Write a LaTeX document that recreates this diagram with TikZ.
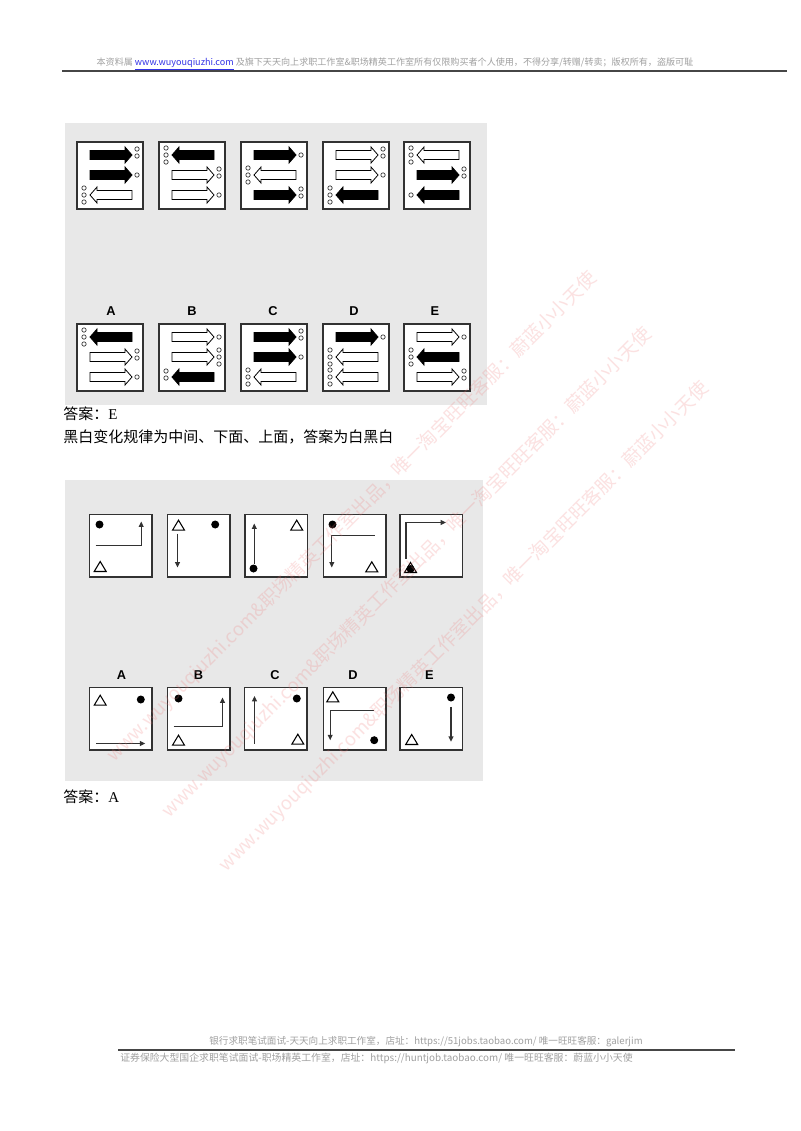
\documentclass[tikz,border=0pt]{standalone}
\usepackage{fontspec}
\setmainfont{Liberation Serif}
\newfontfamily\cjk{Noto Sans CJK SC}
\newfontfamily\lsans{Liberation Sans}
\usetikzlibrary{arrows.meta,calc}
\definecolor{panel}{RGB}{232,232,232}
\definecolor{edge}{RGB}{50,50,50}
\definecolor{hdr}{RGB}{160,160,160}
\definecolor{rulec}{RGB}{70,70,70}
\definecolor{link}{RGB}{50,50,230}
\definecolor{wm}{RGB}{240,120,120}
\newcommand\fpx[1]{\fontsize{#1}{#1}\selectfont}
\tikzset{
  panelbg/.style={fill=panel, draw=none},
  boxs/.style={draw=edge, line width=1.1pt, fill=white},
  blockarr/.style={draw=black, line width=0.6pt, line join=miter},
  ring/.style={draw=black!80, line width=0.5pt, fill=white},
  lab/.style={font=\lsans\bfseries\fpx{9.6}, inner sep=0pt},
  thin arrow/.style={draw=edge, line width=0.85pt, -{Triangle[length=4pt,width=3.6pt]}},
  tri/.style={draw=black, line width=0.8pt, fill=white, line join=miter},
  txt/.style={anchor=west, inner sep=0pt, font=\fpx{11.25}},
  wmtext/.style={text=wm, opacity=0.22, font=\cjk\fpx{14}, rotate=45, inner sep=0pt}
}
% right-pointing block arrow: fill, number of rings, row y
\newcommand\rarr[3]{%
  \draw[blockarr, fill=#1] (13,#3-4.5) -- (48,#3-4.5) -- (48,#3-8) -- (55,#3) -- (48,#3+8) -- (48,#3+4.5) -- (13,#3+4.5) -- cycle;
  \ifcase#2\or
    \draw[ring] (60,#3) circle (2.2);
  \or
    \draw[ring] (60,#3-6) circle (2.2); \draw[ring] (60,#3+1) circle (2.2);
  \or
    \draw[ring] (60,#3-7) circle (2.2); \draw[ring] (60,#3) circle (2.2); \draw[ring] (60,#3+7) circle (2.2);
  \fi}
% left-pointing block arrow
\newcommand\larr[3]{%
  \draw[blockarr, fill=#1] (55,#3-4.5) -- (20,#3-4.5) -- (20,#3-8) -- (13,#3) -- (20,#3+8) -- (20,#3+4.5) -- (55,#3+4.5) -- cycle;
  \ifcase#2\or
    \draw[ring] (7,#3) circle (2.2);
  \or
    \draw[ring] (7,#3-6) circle (2.2); \draw[ring] (7,#3+1) circle (2.2);
  \or
    \draw[ring] (7,#3-7) circle (2.2); \draw[ring] (7,#3) circle (2.2); \draw[ring] (7,#3+7) circle (2.2);
  \fi}
\newcommand\tria[2]{\draw[tri] (#1-6,#2+5) -- (#1+6,#2+5) -- (#1,#2-5) -- cycle;}
\newcommand\dota[2]{\fill[black] (#1,#2) circle (4);}
\begin{document}
\begin{tikzpicture}[x=0.75pt,y=-0.75pt]
\useasboundingbox[fill=white] (0,0) rectangle (800,1131);

% header
\node[inner sep=0pt, text=hdr, font=\cjk\fpx{6.8}] (hdr) at (395,64) {本资料属 \textcolor{link}{\underline{www.wuyouqiuzhi.com}} 及旗下天天向上求职工作室\&职场精英工作室所有仅限购买者个人使用，不得分享/转赠/转卖；版权所有，盗版可耻};
\draw[rulec, line width=1.4pt] (62,71) -- (787,71);

% ---------- puzzle 1 ----------
\fill[panelbg] (65,123) rectangle (487,405);
% top row
\begin{scope}[shift={(77,142)}]
  \draw[boxs] (0,0) rectangle (66,67);
  \rarr{black}{2}{13} \rarr{black}{1}{33} \larr{white}{3}{53}
\end{scope}
\begin{scope}[shift={(159,142)}]
  \draw[boxs] (0,0) rectangle (66,67);
  \larr{black}{3}{13} \rarr{white}{2}{33} \rarr{white}{1}{53}
\end{scope}
\begin{scope}[shift={(241,142)}]
  \draw[boxs] (0,0) rectangle (66,67);
  \rarr{black}{1}{13} \larr{white}{3}{33} \rarr{black}{2}{53}
\end{scope}
\begin{scope}[shift={(323,142)}]
  \draw[boxs] (0,0) rectangle (66,67);
  \rarr{white}{2}{13} \rarr{white}{1}{33} \larr{black}{3}{53}
\end{scope}
\begin{scope}[shift={(404,142)}]
  \draw[boxs] (0,0) rectangle (66,67);
  \larr{white}{3}{13} \rarr{black}{2}{33} \larr{black}{1}{53}
\end{scope}
% answer row
\node[lab] (p1A) at (111,311) {A};
\node[lab] (p1B) at (192,311) {B};
\node[lab] (p1C) at (273,311) {C};
\node[lab] (p1D) at (354,311) {D};
\node[lab] (p1E) at (435,311) {E};
\begin{scope}[shift={(77,324)}]
  \draw[boxs] (0,0) rectangle (66,67);
  \larr{black}{3}{13} \rarr{white}{2}{33} \rarr{white}{1}{53}
\end{scope}
\begin{scope}[shift={(159,324)}]
  \draw[boxs] (0,0) rectangle (66,67);
  \rarr{white}{1}{13} \rarr{white}{3}{33} \larr{black}{2}{53}
\end{scope}
\begin{scope}[shift={(241,324)}]
  \draw[boxs] (0,0) rectangle (66,67);
  \rarr{black}{2}{13} \rarr{black}{1}{33} \larr{white}{3}{53}
\end{scope}
\begin{scope}[shift={(323,324)}]
  \draw[boxs] (0,0) rectangle (66,67);
  \rarr{black}{1}{13} \larr{white}{3}{33} \larr{white}{3}{53}
\end{scope}
\begin{scope}[shift={(404,324)}]
  \draw[boxs] (0,0) rectangle (66,67);
  \rarr{white}{1}{13} \larr{black}{3}{33} \rarr{white}{2}{53}
\end{scope}

\node[txt] (ans1) at (63,414) {{\cjk 答案：}E};
\node[txt, font=\cjk\fpx{11.25}] (rule1) at (63,437) {黑白变化规律为中间、下面、上面，答案为白黑白};

% ---------- puzzle 2 ----------
\fill[panelbg] (65,480) rectangle (483,781);
\begin{scope}[shift={(89.5,514.5)}]
  \draw[boxs] (0,0) rectangle (62.5,62.5);
  \dota{10}{10} \tria{10.7}{52}
  \draw[thin arrow] (6,30.7) -- (51.7,30.7) -- (51.7,7);
\end{scope}
\begin{scope}[shift={(167.5,514.5)}]
  \draw[boxs] (0,0) rectangle (62.5,62.5);
  \tria{11}{10.7} \dota{47.7}{10}
  \draw[thin arrow] (10,19) -- (10,53);
\end{scope}
\begin{scope}[shift={(245,514.5)}]
  \draw[boxs] (0,0) rectangle (62.5,62.5);
  \dota{8.5}{54} \tria{51.7}{10.7}
  \draw[thin arrow] (9.3,49) -- (9.3,9);
\end{scope}
\begin{scope}[shift={(323.5,514.5)}]
  \draw[boxs] (0,0) rectangle (62.5,62.5);
  \dota{9}{10} \tria{48.3}{52.3}
  \draw[thin arrow] (51,21.3) -- (8.3,21.3) -- (8.3,53);
\end{scope}
\begin{scope}[shift={(400,514.5)}]
  \draw[boxs] (0,0) rectangle (62.5,62.5);
  \draw[thin arrow] (6,44) -- (6,8) -- (46,8);
  \tria{10.5}{53} \dota{10.5}{54.5}
\end{scope}
% answer row
\node[lab] (p2A) at (121.5,675) {A};
\node[lab] (p2B) at (198.5,675) {B};
\node[lab] (p2C) at (275,675) {C};
\node[lab] (p2D) at (353,675) {D};
\node[lab] (p2E) at (429.5,675) {E};
\begin{scope}[shift={(89.5,687.5)}]
  \draw[boxs] (0,0) rectangle (62.5,62.5);
  \tria{10.7}{12.7} \dota{51.3}{12}
  \draw[thin arrow] (6.7,56) -- (55.7,56);
\end{scope}
\begin{scope}[shift={(167.5,687.5)}]
  \draw[boxs] (0,0) rectangle (62.5,62.5);
  \dota{11}{11} \tria{11}{52.7}
  \draw[thin arrow] (6,39.3) -- (55,39.3) -- (55,10);
\end{scope}
\begin{scope}[shift={(244.5,687.5)}]
  \draw[boxs] (0,0) rectangle (62.5,62.5);
  \dota{52.3}{11} \tria{53.3}{51.7}
  \draw[thin arrow] (10,56) -- (10,8.5);
\end{scope}
\begin{scope}[shift={(323.5,687.5)}]
  \draw[boxs] (0,0) rectangle (62.5,62.5);
  \tria{9.3}{9.3} \dota{50.7}{52.7}
  \draw[thin arrow] (50,23.3) -- (6.7,23.3) -- (6.7,52.7);
\end{scope}
\begin{scope}[shift={(400,687.5)}]
  \draw[boxs] (0,0) rectangle (62.5,62.5);
  \dota{51}{10} \tria{11.7}{52}
  \draw[thin arrow] (51,19.3) -- (51,54.3);
\end{scope}

\node[txt] (ans2) at (63,797) {{\cjk 答案：}A};

% footer
\node[inner sep=0pt, text=hdr, font=\cjk\fpx{7.2}] (ft1) at (426,1042) {银行求职笔试面试-天天向上求职工作室，店址：https://51jobs.taobao.com/ 唯一旺旺客服：galerjim};
\draw[rulec, line width=1pt] (118,1050) -- (735,1050);
\node[inner sep=0pt, text=hdr, font=\cjk\fpx{7.4}, anchor=west] (ft2) at (120,1058) {证券保险大型国企求职笔试面试-职场精英工作室，店址：https://huntjob.taobao.com/ 唯一旺旺客服：蔚蓝小小天使};

% watermark
\node[wmtext] (wm1) at (352,517) {www.wuyouqiuzhi.com\&职场精英工作室出品，唯一淘宝旺旺客服：蔚蓝小小天使};
\node[wmtext] (wm2) at (407,573) {www.wuyouqiuzhi.com\&职场精英工作室出品，唯一淘宝旺旺客服：蔚蓝小小天使};
\node[wmtext] (wm3) at (464,627) {www.wuyouqiuzhi.com\&职场精英工作室出品，唯一淘宝旺旺客服：蔚蓝小小天使};
\end{tikzpicture}
\end{document}
